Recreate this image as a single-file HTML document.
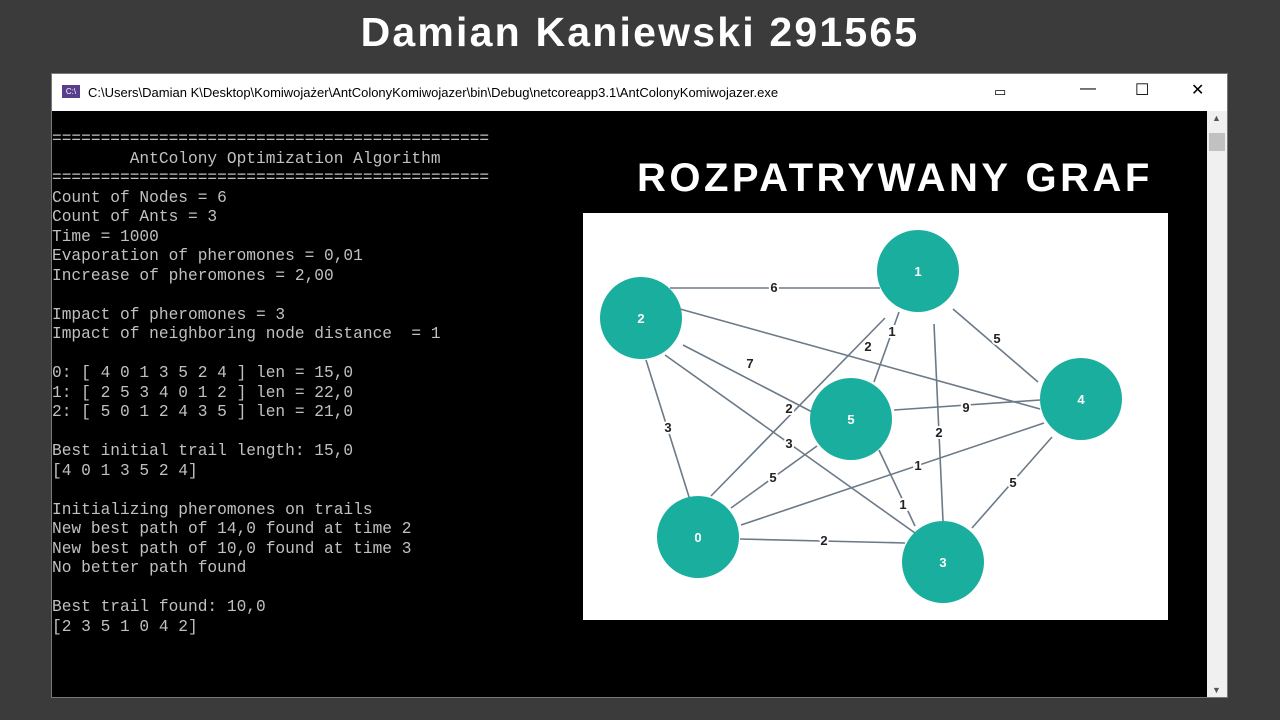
<!DOCTYPE html>
<html><head><meta charset="utf-8"><style>
body{margin:0;width:1280px;height:720px;background:#3b3b3b;position:relative;overflow:hidden;font-family:"Liberation Sans",sans-serif}
.title{position:absolute;top:9px;left:0;width:1280px;text-align:center;color:#fff;font-weight:bold;font-size:41px;letter-spacing:2.2px}
.win{position:absolute;left:51px;top:73px;width:1177px;height:625px;background:#000;border:1px solid #777;box-sizing:border-box}
.tb{position:absolute;left:0;top:0;width:100%;height:37px;background:#fff;font-size:13px;color:#000}
.tb .path{position:absolute;left:36px;top:11px}
.ic{position:absolute;left:10px;top:11px;width:18px;height:13px;background:#5a3e8e;color:#fff;font-size:8px;text-align:center;line-height:13px}
.ctl{position:absolute;top:6px;font-size:16px}
pre{position:absolute;left:0;top:56px;margin:0;color:#c0c0c0;font-family:"Liberation Mono",monospace;font-size:16.2px;line-height:19.5px}
.sb{position:absolute;right:0;top:37px;width:20px;height:586px;background:#f0f0f0}
.thumb{position:absolute;left:2px;top:22px;width:16px;height:18px;background:#c1c1c1}
.h2{position:absolute;left:583px;top:156px;width:640px;color:#fff;font-weight:bold;font-size:40px;letter-spacing:3.5px;padding-left:54px;box-sizing:border-box;white-space:nowrap}
.g{position:absolute;left:583px;top:213px}
</style></head><body>
<div class="title">Damian Kaniewski 291565</div>
<div class="win">
<div class="tb"><div class="ic">C:\</div><div class="path">C:\Users\Damian K\Desktop\Komiwojażer\AntColonyKomiwojazer\bin\Debug\netcoreapp3.1\AntColonyKomiwojazer.exe</div>
<div class="ctl" style="left:942px;font-size:13px;top:10px">▭</div><div class="ctl" style="left:1028px">—</div><div class="ctl" style="left:1083px">☐</div><div class="ctl" style="left:1139px">✕</div></div>
<pre>=============================================
        AntColony Optimization Algorithm
=============================================
Count of Nodes = 6
Count of Ants = 3
Time = 1000
Evaporation of pheromones = 0,01
Increase of pheromones = 2,00

Impact of pheromones = 3
Impact of neighboring node distance  = 1

0: [ 4 0 1 3 5 2 4 ] len = 15,0
1: [ 2 5 3 4 0 1 2 ] len = 22,0
2: [ 5 0 1 2 4 3 5 ] len = 21,0

Best initial trail length: 15,0
[4 0 1 3 5 2 4]

Initializing pheromones on trails
New best path of 14,0 found at time 2
New best path of 10,0 found at time 3
No better path found

Best trail found: 10,0
[2 3 5 1 0 4 2]</pre>
<div class="sb"><div class="thumb"></div><div style="position:absolute;top:2px;left:5px;font-size:9px;color:#555">▲</div><div style="position:absolute;bottom:2px;left:5px;font-size:9px;color:#555">▼</div></div>
</div>
<div class="h2">ROZPATRYWANY GRAF</div>
<svg class="g" width="585" height="407" viewBox="583 213 585 407" style="background:#fff">
<g stroke="#6b7a88" stroke-width="1.6">
<line x1="670" y1="288" x2="880" y2="288"/>
<line x1="680" y1="309" x2="1040" y2="409"/>
<line x1="683" y1="345" x2="818" y2="415"/>
<line x1="646" y1="360" x2="690" y2="500"/>
<line x1="665" y1="355" x2="915" y2="533"/>
<line x1="953" y1="309" x2="1038" y2="382"/>
<line x1="899" y1="312" x2="874" y2="382"/>
<line x1="885" y1="318" x2="711" y2="496"/>
<line x1="934" y1="324" x2="943" y2="521"/>
<line x1="894" y1="410" x2="1040" y2="400"/>
<line x1="817" y1="446" x2="731" y2="508"/>
<line x1="879" y1="450" x2="915" y2="526"/>
<line x1="1044" y1="423" x2="741" y2="525"/>
<line x1="1052" y1="437" x2="972" y2="528"/>
<line x1="740" y1="539" x2="905" y2="543"/>
</g>
<g font-family="Liberation Sans" font-weight="bold" font-size="13" fill="#222" text-anchor="middle" stroke="#fff" stroke-width="4" paint-order="stroke">
<text x="774" y="292">6</text><text x="868" y="351">2</text><text x="750" y="368">7</text><text x="668" y="432">3</text>
<text x="789" y="413">2</text><text x="789" y="448">3</text><text x="892" y="336">1</text><text x="997" y="343">5</text>
<text x="966" y="412">9</text><text x="939" y="437">2</text><text x="773" y="482">5</text><text x="918" y="470">1</text>
<text x="903" y="509">1</text><text x="1013" y="487">5</text><text x="824" y="545">2</text>
</g>
<g fill="#1aae9f"><ellipse cx="918" cy="271" rx="41" ry="41"/><ellipse cx="641" cy="318" rx="41" ry="41"/><ellipse cx="1081" cy="399" rx="41" ry="41"/><ellipse cx="851" cy="419" rx="41" ry="41"/><ellipse cx="698" cy="537" rx="41" ry="41"/><ellipse cx="943" cy="562" rx="41" ry="41"/></g>
<g font-family="Liberation Sans" font-weight="bold" font-size="13" fill="#fff" text-anchor="middle">
<text x="918" y="276">1</text><text x="641" y="323">2</text><text x="1081" y="404">4</text><text x="851" y="424">5</text><text x="698" y="542">0</text><text x="943" y="567">3</text></g>
</svg>
</body></html>
